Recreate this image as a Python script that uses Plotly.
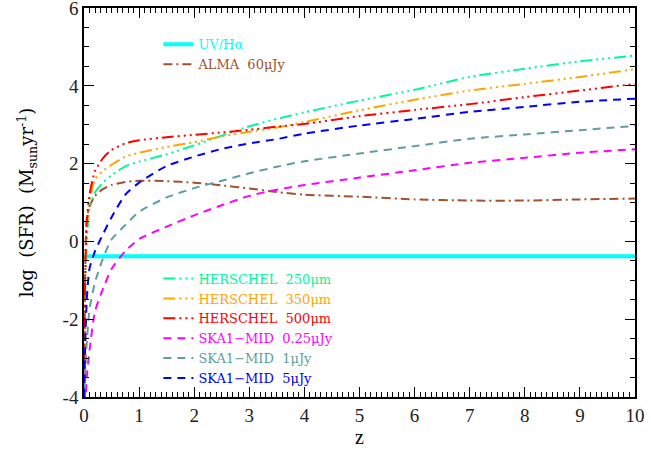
import plotly.graph_objects as go

# redshift sample points
z = [0.005, 0.02, 0.05, 0.1, 0.2, 0.35, 0.5, 0.75, 1.0, 1.5, 2.0, 2.5, 3.0, 3.5, 4.0, 5.0, 6.0, 7.0, 8.0, 9.0, 10.0]

uv_z = [0.0, 10.0]
uv_halpha = [-0.38, -0.38]

alma_60uJy = [-4.0, -1.0, 0.57, 0.9, 1.17, 1.35, 1.45, 1.53, 1.56, 1.55, 1.51, 1.44, 1.36, 1.27, 1.2, 1.15, 1.08, 1.05, 1.05, 1.08, 1.1]
herschel_250 = [-4.0, -1.5, 0.0, 0.8, 1.26, 1.52, 1.7, 1.93, 2.05, 2.24, 2.47, 2.72, 2.96, 3.15, 3.32, 3.62, 3.9, 4.23, 4.44, 4.63, 4.78]
herschel_350 = [-4.0, -1.2, 0.3, 1.0, 1.6, 1.82, 1.97, 2.18, 2.28, 2.43, 2.55, 2.7, 2.82, 2.93, 3.07, 3.37, 3.64, 3.88, 4.05, 4.23, 4.43]
herschel_500 = [-4.0, -1.0, 0.5, 1.2, 1.81, 2.15, 2.35, 2.52, 2.6, 2.68, 2.74, 2.8, 2.87, 2.95, 3.02, 3.22, 3.38, 3.53, 3.71, 3.88, 4.05]
ska_025uJy = [-4.6, -4.4, -3.5, -2.8, -1.8, -1.2, -0.71, -0.25, 0.06, 0.38, 0.67, 0.93, 1.17, 1.33, 1.45, 1.64, 1.83, 2.02, 2.15, 2.28, 2.37]
ska_1uJy = [-4.2, -3.5, -2.6, -1.75, -1.05, -0.42, 0.05, 0.42, 0.76, 1.13, 1.37, 1.56, 1.75, 1.92, 2.06, 2.26, 2.45, 2.64, 2.75, 2.86, 2.97]
ska_5uJy = [-4.0, -2.8, -1.5, -0.7, -0.25, 0.2, 0.62, 1.2, 1.51, 1.94, 2.18, 2.38, 2.52, 2.63, 2.77, 2.98, 3.15, 3.33, 3.46, 3.59, 3.67]

x_ticks = list(range(0, 11))
y_ticks = [-4, -2, 0, 2, 4, 6]

HDDD = "12px,4px,2px,4px,2px,4px,2px,4px"
DD = "9px,4px,2px,4px"
DASH = "8px,6px"

series = [
    ("UV/Hα", uv_z, uv_halpha, "#00FFFF", "solid", 4, "legend"),
    ("ALMA  60μJy", z, alma_60uJy, "#A0522D", DD, 2, "legend"),
    ("HERSCHEL  250μm", z, herschel_250, "#00FA9A", HDDD, 2, "legend2"),
    ("HERSCHEL  350μm", z, herschel_350, "#FFA500", HDDD, 2, "legend2"),
    ("HERSCHEL  500μm", z, herschel_500, "#FF0000", HDDD, 2, "legend2"),
    ("SKA1−MID  0.25μJy", z, ska_025uJy, "#FF00FF", DASH, 2, "legend2"),
    ("SKA1−MID  1μJy", z, ska_1uJy, "#5F9EA0", DASH, 2, "legend2"),
    ("SKA1−MID  5μJy", z, ska_5uJy, "#0000FF", DASH, 2, "legend2"),
]

fig = go.Figure()
for name, xs, ys, col, dash, w, lg in series:
    fig.add_trace(go.Scatter(
        x=xs, y=ys, mode="lines",
        line=dict(color=col, dash=dash, width=w, shape="spline", smoothing=0.6),
        name=f"<span style='color:{col}'>{name}</span>",
        legend=lg,
    ))

serif = "Liberation Serif, DejaVu Serif, serif"
axis_common = dict(
    showline=True, linecolor="black", linewidth=1.5, mirror="ticks",
    ticks="inside", ticklen=10, tickwidth=1.2, tickcolor="black",
    showgrid=False, zeroline=False, automargin=False, ticklabeloverflow="allow",
    tickfont=dict(family=serif, size=19, color="#222"),
)

fig.update_xaxes(range=[0, 10], tickvals=x_ticks, ticktext=[str(v) for v in x_ticks],
                 minor=dict(ticks="inside", dtick=0.1, ticklen=5, tickcolor="black", tickwidth=1),
                 title=dict(text="z", font=dict(family=serif, size=20, color="black"), standoff=0),
                 **axis_common)
fig.update_yaxes(range=[-4.002, 6.002], tickvals=y_ticks, ticktext=[str(v) for v in y_ticks],
                 minor=dict(ticks="inside", dtick=0.5, ticklen=5, tickcolor="black", tickwidth=1),
                 title=dict(text="log  (SFR)  (M<sub>sun</sub>yr<sup>-1</sup>)",
                            font=dict(family="DejaVu Serif, serif", size=18, color="black"), standoff=24),
                 **axis_common)

legend_common = dict(
    bgcolor="rgba(0,0,0,0)", borderwidth=0,
    font=dict(family="DejaVu Serif, serif", size=13), tracegroupgap=0,
    xanchor="left", yanchor="top", itemclick=False,
)
fig.update_layout(
    width=651, height=451,
    margin=dict(l=84, r=16, t=8, b=54),
    plot_bgcolor="white", paper_bgcolor="white",
    legend=dict(x=0.135, y=0.945, **legend_common),
    legend2=dict(x=0.135, y=0.343, **legend_common),
)

fig.write_html("out.html", config={"displayModeBar": False},
               post_script="document.body.style.margin='0';document.body.style.overflow='hidden';")
